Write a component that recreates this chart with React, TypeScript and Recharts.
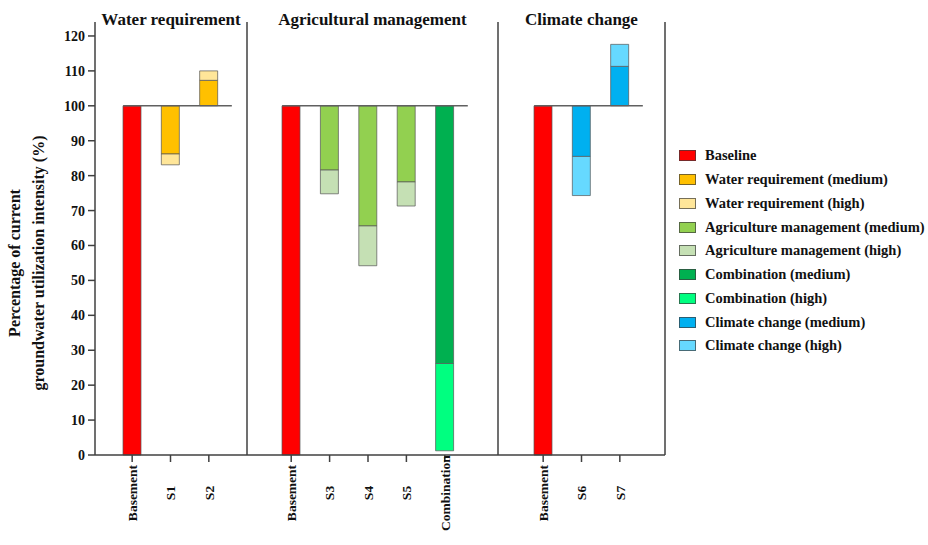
import React from 'react';
import { BarChart, Bar, XAxis, YAxis, ReferenceLine } from 'recharts';

const FONT = "'Liberation Serif', 'Times New Roman', Times, 'DejaVu Serif', serif";

// panels, their x categories
const groupTitles = ['Water requirement', 'Agricultural management', 'Climate change'];
const groupCategories = [
  ['Basement', 'S1', 'S2'],
  ['Basement', 'S3', 'S4', 'S5', 'Combination'],
  ['Basement', 'S6', 'S7'],
];

// scenario results as % of current intensity (baseline = 100)
const baselineValue = 100;
const scenarioNames = ['S1', 'S2', 'S3', 'S4', 'S5', 'Combination', 'S6', 'S7'];
const scenarioGroup = ['water', 'water', 'agri', 'agri', 'agri', 'comb', 'clim', 'clim'];
const mediumValues = [86.2, 107.3, 81.6, 65.6, 78.2, 26.2, 85.5, 111.3];
const highValues = [83.1, 110, 74.8, 54.2, 71.3, 1.2, 74.3, 117.6];

const yTicks = [0, 10, 20, 30, 40, 50, 60, 70, 80, 90, 100, 110, 120];

const seriesKeys = ['baseline', 'waterMed', 'waterHigh', 'agriMed', 'agriHigh', 'combMed', 'combHigh', 'climMed', 'climHigh'];
const seriesNames = [
  'Baseline',
  'Water requirement (medium)',
  'Water requirement (high)',
  'Agriculture management (medium)',
  'Agriculture management (high)',
  'Combination (medium)',
  'Combination (high)',
  'Climate change (medium)',
  'Climate change (high)',
];
const seriesColors = ['#FF0000', '#FFC000', '#FFE699', '#92D050', '#C5E0B4', '#00B050', '#00FF80', '#00B0F0', '#66D9FF'];

const panelSeries = [
  ['baseline', 'waterMed', 'waterHigh'],
  ['baseline', 'agriMed', 'agriHigh', 'combMed', 'combHigh'],
  ['baseline', 'climMed', 'climHigh'],
];

function buildRows(cats: string[]) {
  return cats.map((cat) => {
    const row: any = { cat };
    if (cat === 'Basement') {
      row.baseline = [0, baselineValue];
      return row;
    }
    const i = scenarioNames.indexOf(cat);
    const g = scenarioGroup[i];
    const m = mediumValues[i];
    const h = highValues[i];
    row[g + 'Med'] = [Math.min(baselineValue, m), Math.max(baselineValue, m)];
    row[g + 'High'] = [Math.min(m, h), Math.max(m, h)];
    return row;
  });
}

// layout of the three panels
const H = 545;
const panels = [
  { left: 0, width: 250, margin: { top: 22, right: 3, left: 35, bottom: 0 }, yWidth: 60, pad: { left: 18, right: 19 } },
  { left: 240, width: 262, margin: { top: 22, right: 4, left: 6, bottom: 0 }, yWidth: 1, pad: { left: 25, right: 34 } },
  { left: 490, width: 180, margin: { top: 22, right: 4, left: 7, bottom: 0 }, yWidth: 1, pad: { left: 26, right: 26 } },
];

const axisColor = '#404040';

function XTick({ x, y, payload }: any) {
  return (
    <g transform={`translate(${x},${y + 29}) rotate(-90)`}>
      <text textAnchor="middle" dy="0.35em" fontFamily={FONT} fontWeight="bold" fontSize={13.5} fill="#111">
        {payload.value}
      </text>
    </g>
  );
}

function HundredLine(props: any) {
  const { x1, x2, y1 } = props;
  return <line x1={x1 - 9} x2={x2 + 23} y1={y1} y2={y1} stroke="#606060" strokeWidth={1.5} />;
}

function Panel({ idx }: { idx: number }) {
  const p = panels[idx];
  const cats = groupCategories[idx];
  const rows = buildRows(cats);
  const keys = panelSeries[idx];
  const plotLeft = p.margin.left + p.yWidth;
  const plotRight = p.width - p.margin.right - (idx === 2 ? 1 : 0);
  return (
    <div style={{ position: 'absolute', left: p.left, top: 0 }}>
      <BarChart width={p.width} height={H} data={rows} margin={p.margin}>
        {keys.map((k, j) => (
          <XAxis
            key={k}
            xAxisId={k}
            dataKey="cat"
            type="category"
            hide={j > 0}
            padding={p.pad}
            height={j > 0 ? 0 : 90}
            interval={0}
            tick={<XTick />}
            tickSize={7}
            axisLine={{ stroke: axisColor, strokeWidth: 1.5 }}
            tickLine={{ stroke: axisColor, strokeWidth: 1.5 }}
          />
        ))}
        <YAxis
          domain={[0, 124]}
          ticks={yTicks}
          width={p.yWidth}
          tick={idx === 0 ? { fontFamily: FONT, fontWeight: 'bold', fontSize: 14, fill: '#111' } : false}
          tickLine={idx === 0 ? { stroke: axisColor, strokeWidth: 1.5 } : false}
          tickSize={7}
          tickMargin={3}
          axisLine={{ stroke: axisColor, strokeWidth: 1.5 }}
        />
        {idx === 2 && (
          <YAxis
            yAxisId="right"
            orientation="right"
            domain={[0, 124]}
            width={1}
            tick={false}
            tickLine={false}
            axisLine={{ stroke: axisColor, strokeWidth: 1.5 }}
          />
        )}
        <ReferenceLine
          xAxisId="baseline"
          segment={[
            { x: cats[0], y: baselineValue },
            { x: cats[cats.length - 1], y: baselineValue },
          ]}
          shape={<HundredLine />}
        />
        {keys.map((k) => (
          <Bar
            key={k}
            xAxisId={k}
            dataKey={k}
            name={seriesNames[seriesKeys.indexOf(k)]}
            fill={seriesColors[seriesKeys.indexOf(k)]}
            stroke="#555"
            strokeOpacity={0.7}
            strokeWidth={1}
            barSize={18}
            isAnimationActive={false}
          />
        ))}
        <text
          x={(plotLeft + plotRight) / 2}
          y={25}
          textAnchor="middle"
          fontFamily={FONT}
          fontWeight="bold"
          fontSize={17}
          fill="#111"
        >
          {groupTitles[idx]}
        </text>
        {idx === 0 && (
          <g fontFamily={FONT} fontWeight="bold" fontSize={16} fill="#111" textAnchor="middle">
            <text transform="translate(20,263) rotate(-90)">Percentage of current</text>
            <text transform="translate(44,263) rotate(-90)">groundwater utilization intensity (%)</text>
          </g>
        )}
      </BarChart>
    </div>
  );
}

function LegendBox() {
  return (
    <div style={{ position: 'absolute', left: 679, top: 144 }}>
      {seriesNames.map((n, i) => (
        <div key={n} style={{ display: 'flex', alignItems: 'center', height: 23.75 }}>
          <span
            style={{
              display: 'inline-block',
              width: 15,
              height: 9,
              background: seriesColors[i],
              border: '1px solid rgba(60,60,60,0.7)',
              marginRight: 9,
            }}
          />
          <span style={{ fontFamily: FONT, fontWeight: 'bold', fontSize: 14.5, color: '#111', whiteSpace: 'nowrap' }}>{n}</span>
        </div>
      ))}
    </div>
  );
}

export default function App() {
  return (
    <div style={{ position: 'absolute', left: 0, top: 0, width: 928, height: 545, background: '#fff' }}>
      <Panel idx={0} />
      <Panel idx={1} />
      <Panel idx={2} />
      <LegendBox />
    </div>
  );
}
